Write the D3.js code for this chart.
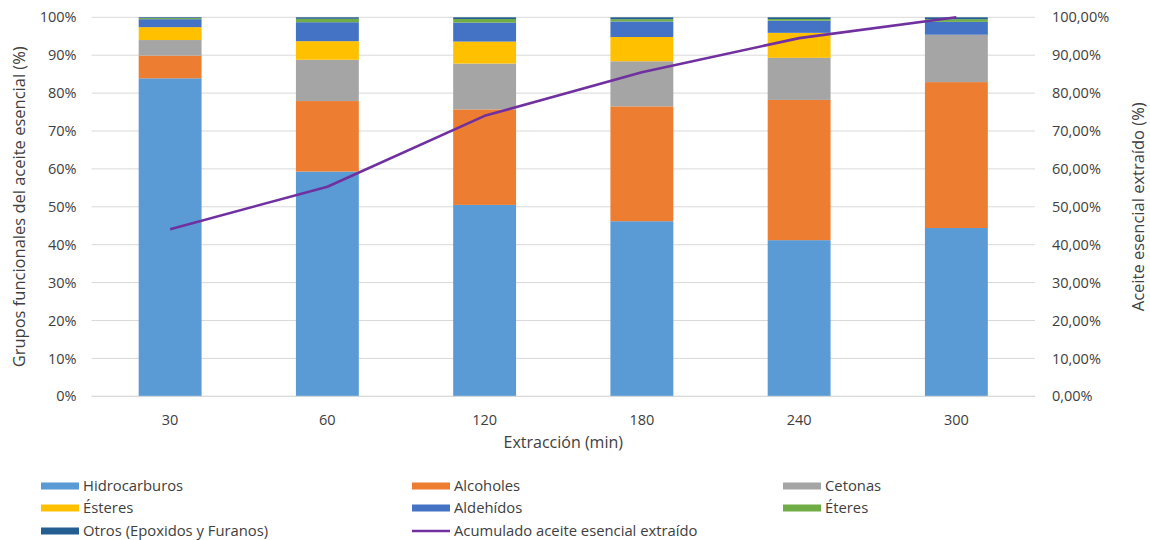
<!DOCTYPE html>
<html>
<head>
<meta charset="utf-8">
<script src="https://cdn.jsdelivr.net/npm/d3@7"></script>
<style>
  html, body { margin: 0; padding: 0; background: #fff; }
  svg { display: block; font-family: "Open Sans", sans-serif; }
</style>
</head>
<body>
<svg id="chart" width="1150" height="540"></svg>
<script>
// Extraction times (min)
const categories = ["30", "60", "120", "180", "240", "300"];

// Functional groups (% of essential oil composition)
const hidrocarburos = [83.9, 59.3, 50.5, 46.2, 41.2, 44.4];
const alcoholes     = [6.0, 18.6, 25.2, 30.3, 37.0, 38.5];
const cetonas       = [4.1, 10.9, 12.1, 11.9, 11.1, 12.5];
const esteres       = [3.4, 4.9, 5.8, 6.4, 6.6, 0.0];
const aldehidos     = [2.1, 5.0, 5.0, 4.1, 3.2, 3.4];
const eteres        = [0.3, 0.9, 0.95, 0.6, 0.45, 0.7];
const otros         = [0.2, 0.4, 0.45, 0.5, 0.45, 0.5];

// Cumulative essential oil extracted (%)
const acumulado = [44.1, 55.3, 74.0, 85.5, 94.5, 100.0];

const leftTicks = [0, 10, 20, 30, 40, 50, 60, 70, 80, 90, 100];
const rightTicks = [0, 10, 20, 30, 40, 50, 60, 70, 80, 90, 100];

const seriesNames = ["Hidrocarburos", "Alcoholes", "Cetonas", "Ésteres", "Aldehídos", "Éteres", "Otros (Epoxidos y Furanos)"];
const seriesValues = [hidrocarburos, alcoholes, cetonas, esteres, aldehidos, eteres, otros];
const seriesColors = ["#5B9BD5", "#ED7D31", "#A5A5A5", "#FFC000", "#4472C4", "#70AD47", "#255E91"];
const lineName = "Acumulado aceite esencial extraído";
const lineColor = "#7030A0";

const svg = d3.select("#chart");
const plot = { left: 91.5, right: 1035, top: 17.3, bottom: 396.3 };
const font = "'Open Sans', sans-serif";

// Build rows for a 100% stacked layout
const rows = categories.map((c, i) => {
  const r = { cat: c };
  seriesNames.forEach((n, k) => r[n] = seriesValues[k][i]);
  return r;
});
const stack = d3.stack().keys(seriesNames).offset(d3.stackOffsetExpand);
const stacked = stack(rows);

const x = d3.scaleBand().domain(categories).range([plot.left, plot.right]).paddingInner(0.6).paddingOuter(0.3);
const xPoint = c => x(c) + x.bandwidth() / 2;
const y = d3.scaleLinear().domain([0, 1]).range([plot.bottom, plot.top]);
const y2 = d3.scaleLinear().domain([0, 100]).range([plot.bottom, plot.top]);

// Gridlines
svg.append("g")
  .selectAll("line")
  .data(leftTicks)
  .join("line")
  .attr("x1", plot.left).attr("x2", plot.right)
  .attr("y1", d => y(d / 100)).attr("y2", d => y(d / 100))
  .attr("stroke", "#d9d9d9").attr("stroke-width", 1);

// Stacked bars
svg.append("g")
  .selectAll("g")
  .data(stacked)
  .join("g")
  .attr("fill", (d, i) => seriesColors[i])
  .selectAll("rect")
  .data(d => d)
  .join("rect")
  .attr("x", d => x(d.data.cat))
  .attr("width", x.bandwidth())
  .attr("y", d => y(d[1]))
  .attr("height", d => Math.max(0, y(d[0]) - y(d[1])));

// Baseline
svg.append("line")
  .attr("x1", plot.left).attr("x2", plot.right)
  .attr("y1", plot.bottom).attr("y2", plot.bottom)
  .attr("stroke", "#d9d9d9").attr("stroke-width", 1);

// Cumulative extraction line (secondary axis)
const line = d3.line()
  .x((d, i) => xPoint(categories[i]))
  .y(d => y2(d));
svg.append("path")
  .datum(acumulado)
  .attr("d", line)
  .attr("fill", "none")
  .attr("stroke", lineColor)
  .attr("stroke-width", 2.6)
  .attr("stroke-linejoin", "round");

const textColor = "#404040";

// Left axis
const leftAxis = d3.axisLeft(d3.scaleLinear().domain([0, 100]).range([plot.bottom, plot.top]))
  .tickValues(leftTicks).tickFormat(d => d + "%").tickSize(0).tickPadding(15);
const gl = svg.append("g").attr("transform", `translate(${plot.left},0)`).call(leftAxis);
gl.select(".domain").remove();
gl.selectAll("text").attr("fill", textColor).style("font-size", "14.5px").style("font-family", font);

// Right axis
const rightAxis = d3.axisRight(y2)
  .tickValues(rightTicks)
  .tickFormat(d => d3.format(".2f")(d).replace(".", ",") + "%")
  .tickSize(0).tickPadding(17);
const gr = svg.append("g").attr("transform", `translate(${plot.right},0)`).call(rightAxis);
gr.select(".domain").remove();
gr.selectAll("text").attr("fill", textColor).style("font-size", "14.5px").style("font-family", font);

// Bottom axis
const bottomAxis = d3.axisBottom(x).tickSize(0).tickPadding(18);
const gb = svg.append("g").attr("transform", `translate(0,${plot.bottom})`).call(bottomAxis);
gb.select(".domain").remove();
gb.selectAll("text").attr("fill", textColor).style("font-size", "14.5px").style("font-family", font);

// Axis titles
svg.append("text")
  .attr("transform", `translate(25,${(plot.top + plot.bottom) / 2}) rotate(-90)`)
  .attr("text-anchor", "middle")
  .attr("fill", textColor).style("font-size", "16.5px")
  .text("Grupos funcionales del aceite esencial (%)");

svg.append("text")
  .attr("transform", `translate(1144,${(plot.top + plot.bottom) / 2}) rotate(-90)`)
  .attr("text-anchor", "middle")
  .attr("fill", textColor).style("font-size", "16.5px")
  .text("Aceite esencial extraído (%)");

svg.append("text")
  .attr("x", (plot.left + plot.right) / 2)
  .attr("y", 448)
  .attr("text-anchor", "middle")
  .attr("fill", textColor).style("font-size", "16px")
  .text("Extracción (min)");

// Legend
const legendItems = seriesNames.map((n, i) => ({ name: n, color: seriesColors[i], type: "rect" }))
  .concat([{ name: lineName, color: lineColor, type: "line" }]);
const colX = [41, 412, 783];
const rowY = [486, 508, 531];
const lg = svg.append("g");
legendItems.forEach((item, i) => {
  const cx = colX[i % 3];
  const cy = rowY[Math.floor(i / 3)];
  if (item.type === "rect") {
    lg.append("rect").attr("x", cx).attr("y", cy - 3.5).attr("width", 38).attr("height", 7).attr("fill", item.color);
  } else {
    lg.append("line").attr("x1", cx).attr("x2", cx + 38).attr("y1", cy).attr("y2", cy)
      .attr("stroke", item.color).attr("stroke-width", 2.6);
  }
  lg.append("text")
    .attr("x", cx + 42).attr("y", cy).attr("dy", "0.35em")
    .attr("fill", textColor).style("font-size", "14.8px")
    .text(item.name);
});
</script>
</body>
</html>
